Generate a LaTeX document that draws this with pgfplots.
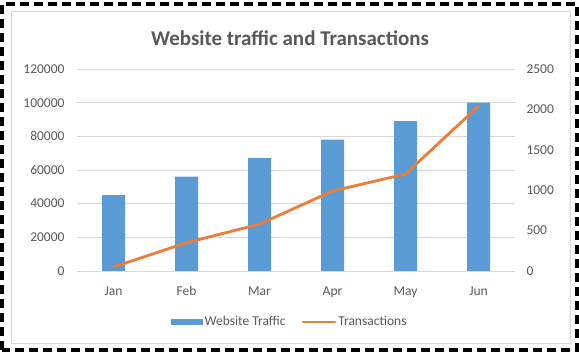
\documentclass[border=0pt]{standalone}
\usepackage{pgfplots}
\pgfplotsset{compat=1.18}
\usepackage{fontspec}
\setmainfont{Carlito}
\definecolor{webblue}{HTML}{5B9BD5}
\definecolor{transorange}{HTML}{E97D39}
\definecolor{txtgray}{HTML}{595959}
\definecolor{gridgray}{HTML}{D9D9D9}
\begin{document}
\begin{tikzpicture}[x=1pt,y=1pt]
\useasboundingbox (0,0) rectangle (579,359);
\fill[white] (0,0) rectangle (579,359);
\draw[black, line width=4pt, dash pattern=on 9pt off 5pt] (2,9) rectangle (577,355);
\draw[gridgray, line width=0.8pt] (11,16) rectangle (570,348);
\node[text=txtgray, font=\fontsize{21}{25}\selectfont\bfseries] at (290,321) {Website traffic and Transactions};
\begin{axis}[
  at={(77pt,88pt)}, anchor=south west,
  scale only axis, width=438pt, height=202pt,
  xmin=-0.5, xmax=5.5, ymin=0, ymax=120000,
  xtick={0,1,2,3,4,5},
  xticklabels={Jan,Feb,Mar,Apr,May,Jun},
  ytick={0,20000,40000,60000,80000,100000,120000},
  axis x line*=bottom, axis y line*=left,
  axis line style={draw=none},
  major tick length=0pt,
  ymajorgrids, grid style={gridgray, line width=0.8pt},
  scaled y ticks=false,
  /pgf/number format/assume math mode=true,
  yticklabel={\pgfmathprintnumber[fixed,1000 sep={}]{\tick}},
  ticklabel style={text=txtgray, font=\fontsize{13.5}{16}\selectfont},
  yticklabel style={xshift=-9pt},
  xticklabel style={yshift=-12pt},
  clip=false,
]
\addplot[ybar, bar width=23pt, fill=webblue, draw=none] coordinates {
  (0,45000) (1,56000) (2,67000) (3,78000) (4,89000) (5,100000)
};
\end{axis}
\begin{axis}[
  at={(77pt,88pt)}, anchor=south west,
  scale only axis, width=438pt, height=202pt,
  xmin=-0.5, xmax=5.5, ymin=0, ymax=2500,
  ytick={0,500,1000,1500,2000,2500},
  axis x line=none, axis y line*=right,
  axis line style={draw=none},
  major tick length=0pt,
  /pgf/number format/assume math mode=true,
  yticklabel={\pgfmathprintnumber[fixed,1000 sep={}]{\tick}},
  ticklabel style={text=txtgray, font=\fontsize{13.5}{16}\selectfont},
  yticklabel style={xshift=8pt},
  clip=false,
  legend columns=2,
  legend style={at={(0.486,-0.252)}, anchor=center, draw=none, fill=none,
    font=\fontsize{13.5}{16}\selectfont, text=txtgray,
    /tikz/every even column/.append style={column sep=14pt}},
  legend cell align=left,
]
\addlegendimage{legend image code/.code={\fill[webblue] (0pt,-2.6pt) rectangle (31pt,2.6pt);}}
\addlegendentry{Website Traffic}
\addplot[transorange, line width=2.8pt, line join=round, line cap=round,
  legend image code/.code={\draw[transorange, line width=2.8pt] (0pt,0pt)--(32pt,0pt);}]
  coordinates {(0,50) (1,350) (2,580) (3,990) (4,1200) (5,2040)};
\addlegendentry{Transactions}
\end{axis}
\end{tikzpicture}
\end{document}
